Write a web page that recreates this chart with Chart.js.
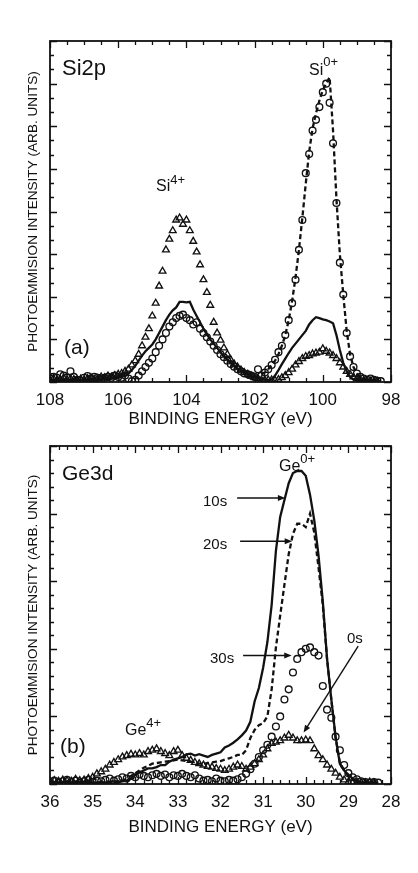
<!DOCTYPE html>
<html><head><meta charset="utf-8">
<script src="https://cdn.jsdelivr.net/npm/chart.js@4.4.0/dist/chart.umd.min.js"></script>
<style>
html,body{margin:0;padding:0;background:#fff;}
#wrap{position:relative;width:418px;height:873px;overflow:hidden;font-family:"Liberation Sans",Arial,Helvetica,sans-serif;color:#111;}
canvas{position:absolute;left:0;}
.lbl{position:absolute;line-height:1;white-space:nowrap;}
.sp{position:relative;font-size:13px;}
</style></head>
<body><div id="wrap">
<canvas id="cA" width="418" height="436" style="top:0px"></canvas>
<canvas id="cB" width="418" height="437" style="top:436px"></canvas>
<div class="lbl" style="left:62px;top:57px;font-size:22px">Si2p</div>
<div class="lbl" style="left:309px;top:62px;font-size:16px">Si<span class="sp" style="top:-9px">0+</span></div>
<div class="lbl" style="left:156px;top:178px;font-size:16px">Si<span class="sp" style="top:-7px">4+</span></div>
<div class="lbl" style="left:64px;top:336px;font-size:21px">(a)</div>
<div class="lbl" style="left:62px;top:462px;font-size:21px">Ge3d</div>
<div class="lbl" style="left:279px;top:458px;font-size:16px">Ge<span class="sp" style="top:-8px">0+</span></div>
<div class="lbl" style="left:203px;top:493px;font-size:15px">10s</div>
<div class="lbl" style="left:203px;top:536px;font-size:15px">20s</div>
<div class="lbl" style="left:210px;top:650px;font-size:15px">30s</div>
<div class="lbl" style="left:347px;top:630px;font-size:15px">0s</div>
<div class="lbl" style="left:125px;top:722px;font-size:16px">Ge<span class="sp" style="top:-8px">4+</span></div>
<div class="lbl" style="left:60px;top:735px;font-size:21px">(b)</div>
</div>
<script>
// ---------- Panel (a): Si2p, binding energy grid 108.0 -> 98.2 eV (0.1 eV step)
const energyA = Array.from({length: 99}, (_, i) => +(108 - 0.1 * i).toFixed(1));
const circA = [
  0.08,0.12,0.10,0.18,0.15,0.10,0.25,0.12,0.05,0.03,
  0.10,0.14,0.08,0.12,0.10,0.05,0.10,0.12,0.10,0.15,
  0.12,0.10,0.15,0.08,0.02,0.05,0.15,0.25,0.35,0.45,
  0.55,0.70,0.85,1.00,1.15,1.30,1.40,1.50,1.55,1.58,
  1.50,1.45,1.35,1.40,1.25,1.15,1.05,0.95,0.85,0.75,
  0.65,0.58,0.50,0.42,0.36,0.30,0.25,0.20,0.18,0.15,
  0.12,0.30,0.15,0.22,0.30,0.40,0.52,0.70,0.85,1.10,
  1.45,1.85,2.40,3.10,3.80,4.90,5.35,5.90,6.15,6.45,
  6.80,7.00,6.55,5.60,4.20,2.80,2.05,1.15,0.60,0.35,
  0.20,0.12,0.08,0.05,0.08,0.05,0.03,0.02,null
];
const triA = [
  0.05,0.08,0.04,0.06,0.10,0.05,0.08,0.06,0.04,0.07,
  0.05,0.08,0.10,0.06,0.08,0.12,0.10,0.14,0.12,0.15,
  0.18,0.20,0.25,0.30,0.40,0.50,0.65,0.85,1.05,1.25,
  1.55,1.85,2.25,2.60,3.10,3.35,3.55,3.80,3.85,3.70,
  3.80,3.55,3.30,3.05,2.75,2.40,2.10,1.80,1.40,1.15,
  0.98,0.80,0.65,0.52,0.42,0.35,0.28,0.22,0.18,0.14,
  0.10,0.08,0.05,0.04,0.05,0.05,0.04,0.06,0.10,0.15,
  0.22,0.30,0.40,0.48,0.55,0.60,0.62,0.66,0.68,0.70,
  0.78,0.72,0.68,0.62,0.55,0.45,0.35,0.25,0.18,0.12,
  0.08,0.05,0.04,0.03,0.02,0.02,0.02,null,null
];
const solidA = [
  0.06,0.05,0.07,0.05,0.04,0.06,0.05,0.07,0.05,0.04,
  0.06,0.05,0.07,0.06,0.05,0.06,0.08,0.07,0.08,0.10,
  0.10,0.12,0.15,0.20,0.28,0.38,0.50,0.62,0.72,0.80,
  0.88,1.00,1.15,1.30,1.45,1.58,1.68,1.75,1.88,1.88,
  1.87,1.88,1.70,1.55,1.40,1.25,1.12,1.00,0.90,0.80,
  0.70,0.60,0.52,0.45,0.38,0.32,0.27,0.22,0.18,0.14,
  0.12,0.10,0.08,0.06,0.05,0.06,0.15,0.28,0.42,0.55,
  0.68,0.80,0.90,1.00,1.10,1.20,1.35,1.45,1.52,1.50,
  1.47,1.45,1.42,1.38,1.10,0.75,0.45,0.25,0.12,0.06,
  0.04,0.03,0.03,0.02,0.02,0.02,0.02,0.02,null
];
// dashed curve: 102.0 -> 98.3 eV
const energyDashA = Array.from({length: 38}, (_, i) => +(102 - 0.1 * i).toFixed(1));
const dashA = [
  0.10,0.15,0.18,0.22,0.30,0.40,0.50,0.65,0.85,1.10,
  1.45,1.90,2.45,3.10,3.85,4.65,5.40,5.95,6.30,6.60,
  6.85,7.00,7.15,5.90,4.30,3.00,2.05,1.20,0.65,0.35,
  0.20,0.12,0.08,0.05,0.04,0.03,0.02,0.02
];

// ---------- Panel (b): Ge3d, binding energy grid 36.0 -> 28.2 eV (0.1 eV step)
const energyB = Array.from({length: 79}, (_, i) => +(36 - 0.1 * i).toFixed(1));
const circB30s = [
  .03,.05,.02,.04,.06,.03,.05,.02,.04,.06,
  .03,.05,.04,.06,.08,.05,.07,.10,.08,.12,
  .10,.14,.12,.10,.13,.15,.12,.14,.10,.13,
  .12,.15,.12,.10,.13,.08,.05,.06,.04,.08,
  .05,.04,.06,.05,.07,.10,.15,.22,.30,.40,
  .50,.58,.70,.85,1.00,1.25,1.40,1.65,1.85,1.95,
  2.00,2.02,1.95,1.90,1.45,1.10,.98,.70,.50,.28,
  .16,.10,.07,.04,.03,.02,.03,.02,null
];
const triB0s = [
  .03,.05,.04,.06,.05,.04,.07,.05,.06,.08,
  .10,.15,.18,.22,.28,.32,.36,.40,.42,.44,
  .43,.45,.43,.48,.50,.52,.48,.45,.42,.48,
  .50,.42,.38,.35,.32,.30,.28,.26,.25,.23,
  .22,.20,.22,.25,.28,.26,.22,.25,.30,.36,
  .43,.52,.60,.62,.64,.68,.72,.68,.64,.64,
  .65,.64,.52,.42,.36,.28,.22,.16,.10,.06,
  .03,.02,.03,.02,.02,.03,.02,null,null
];
const solidB10s = [
  .02,.02,.02,.03,.02,.02,.03,.02,.02,.03,
  .02,.02,.03,.02,.03,.04,.03,.04,.05,.08,
  .13,.17,.20,.23,.23,.25,.28,.28,.33,.36,
  .38,.40,.44,.45,.42,.44,.42,.40,.43,.45,
  .47,.54,.57,.61,.66,.72,.79,.92,1.22,1.42,
  1.72,2.10,2.65,3.45,3.95,4.20,4.45,4.60,4.63,4.63,
  4.56,4.28,3.90,3.38,2.70,1.85,1.25,.70,.30,.20,
  .14,.08,.04,.02,.02,.02,.02,.02,null
];
const dashB20s = [
  .02,.03,.02,.02,.03,.02,.02,.03,.02,.02,
  .02,.02,.02,.03,.02,.03,.04,.05,.08,.12,
  .16,.20,.24,.27,.30,.31,.32,.33,.34,.35,
  .36,.35,.34,.33,.32,.30,.30,.31,.32,.33,
  .34,.36,.38,.40,.43,.43,.50,.68,.80,.87,
  .90,1.00,1.40,2.02,2.49,2.95,3.40,3.70,3.85,3.85,
  3.80,4.00,3.72,3.20,2.65,1.85,1.25,.68,.32,.20,
  .12,.07,.04,.02,.02,.02,.02,.02,null
];

const INK = '#111111';
const FONT = "'Liberation Sans', Arial, Helvetica, sans-serif";
const yTitle = 'PHOTOEMMISION INTENSITY (ARB. UNITS)';
const xTitle = 'BINDING ENERGY (eV)';

function pts(E, V) {
  const out = [];
  V.forEach((v, i) => { if (v !== null) out.push({x: E[i], y: v}); });
  return out;
}
const isMaj = (v, s) => Math.abs(v / s - Math.round(v / s)) < 1e-6;

function drawArrow(ctx, x1, y1, x2, y2, head) {
  const ang = Math.atan2(y2 - y1, x2 - x1);
  ctx.beginPath();
  ctx.moveTo(x1, y1);
  ctx.lineTo(x2 - Math.cos(ang) * head * 0.8, y2 - Math.sin(ang) * head * 0.8);
  ctx.stroke();
  ctx.beginPath();
  ctx.moveTo(x2, y2);
  ctx.lineTo(x2 - head * Math.cos(ang - 0.38), y2 - head * Math.sin(ang - 0.38));
  ctx.lineTo(x2 - head * Math.cos(ang + 0.38), y2 - head * Math.sin(ang + 0.38));
  ctx.closePath();
  ctx.fill();
}

const framePlugin = {
  id: 'frame',
  afterDatasetsDraw(chart, args, o) {
    const {ctx, chartArea: a, scales: {x, y}} = chart;
    ctx.save();
    ctx.strokeStyle = INK;
    ctx.fillStyle = INK;
    ctx.lineWidth = 1.3;
    ctx.beginPath();
    x.ticks.forEach(t => {
      const p = Math.round(x.getPixelForValue(t.value)) + 0.5;
      const L = isMaj(t.value, o.xMajor) ? 7 : 4;
      ctx.moveTo(p, a.bottom); ctx.lineTo(p, a.bottom - L);
      ctx.moveTo(p, a.top); ctx.lineTo(p, a.top + L);
    });
    y.ticks.forEach(t => {
      const p = Math.round(y.getPixelForValue(t.value)) + 0.5;
      const L = isMaj(t.value, o.yMajor) ? 7 : 4;
      ctx.moveTo(a.left, p); ctx.lineTo(a.left + L, p);
      ctx.moveTo(a.right, p); ctx.lineTo(a.right - L, p);
    });
    ctx.stroke();
    ctx.lineWidth = 1.8;
    ctx.strokeRect(a.left, a.top, a.right - a.left, a.bottom - a.top);
    ctx.lineWidth = 1.4;
    (o.arrows || []).forEach(ar => {
      drawArrow(ctx, x.getPixelForValue(ar[0]), y.getPixelForValue(ar[1]),
                x.getPixelForValue(ar[2]), y.getPixelForValue(ar[3]), 8);
    });
    ctx.restore();
  }
};

function markerSet(data, style, r) {
  return {data, showLine: false, pointStyle: style, pointRadius: r, pointHoverRadius: r,
    pointBorderColor: INK, pointBackgroundColor: 'rgba(0,0,0,0)', pointBorderWidth: 1.35,
    borderColor: INK, backgroundColor: 'rgba(0,0,0,0)'};
}
function lineSet(data, dash) {
  return {data, showLine: true, pointRadius: 0, borderColor: INK, borderWidth: 2.3,
    borderDash: dash, tension: 0, backgroundColor: 'rgba(0,0,0,0)'};
}

function makeChart(id, cfg) {
  return new Chart(document.getElementById(id), {
    type: 'scatter',
    data: {datasets: cfg.datasets},
    plugins: [framePlugin],
    options: {
      responsive: false, animation: false, events: [],
      layout: {padding: cfg.padding},
      plugins: {legend: {display: false}, tooltip: {enabled: false},
        frame: {xMajor: cfg.xMajor, yMajor: cfg.yMajor, arrows: cfg.arrows}},
      scales: {
        x: {
          type: 'linear', reverse: true, min: cfg.xMin, max: cfg.xMax,
          grid: {display: false, drawTicks: false}, border: {display: false},
          afterBuildTicks: s => { s.ticks = cfg.xTicks.map(v => ({value: v})); },
          afterFit: s => { s.height = cfg.xAxisH; },
          ticks: {autoSkip: false, maxRotation: 0, padding: 8, color: INK,
            font: {family: FONT, size: 17},
            callback: v => isMaj(v, cfg.xMajor) ? String(Math.round(v)) : ''},
          title: {display: true, text: xTitle, color: INK, padding: {top: 0, bottom: 0},
            font: {family: FONT, size: 17}}
        },
        y: {
          type: 'linear', min: cfg.yMin, max: cfg.yMax,
          grid: {display: false, drawTicks: false}, border: {display: false},
          afterBuildTicks: s => { s.ticks = cfg.yTicks.map(v => ({value: v})); },
          afterFit: s => { s.width = 50; },
          ticks: {display: false},
          title: {display: true, text: yTitle, color: INK, padding: {top: 25, bottom: 0},
            font: {family: FONT, size: 13.6}}
        }
      }
    }
  });
}

const xTicksA = Array.from({length: 21}, (_, k) => 98 + 0.5 * k);
const yTicksA = Array.from({length: 25}, (_, k) => k / 3);
const xTicksB = Array.from({length: 41}, (_, k) => 28 + 0.2 * k);
const yTicksB = Array.from({length: 26}, (_, k) => 0.2 * k);

makeChart('cA', {
  datasets: [
    markerSet(pts(energyA, circA), 'circle', 3.4),
    markerSet(pts(energyA, triA), 'triangle', 3.9),
    lineSet(pts(energyA, solidA), []),
    lineSet(pts(energyDashA, dashA), [5, 3])
  ],
  padding: {left: 0, right: 27, top: 41, bottom: 6},
  xMin: 98, xMax: 108, yMin: 0, yMax: 8, xMajor: 2, yMajor: 1,
  xTicks: xTicksA, yTicks: yTicksA, xAxisH: 48, arrows: []
});

makeChart('cB', {
  datasets: [
    markerSet(pts(energyB, circB30s), 'circle', 3.4),
    markerSet(pts(energyB, triB0s), 'triangle', 3.9),
    lineSet(pts(energyB, solidB10s), []),
    lineSet(pts(energyB, dashB20s), [5, 3])
  ],
  padding: {left: 0, right: 27, top: 10, bottom: 35},
  xMin: 28, xMax: 36, yMin: 0, yMax: 5, xMajor: 1, yMajor: 1,
  xTicks: xTicksB, yTicks: yTicksB, xAxisH: 54,
  arrows: [
    [31.61, 4.23, 30.48, 4.23],
    [31.54, 3.59, 30.32, 3.59],
    [31.47, 1.90, 30.33, 1.90],
    [28.77, 2.04, 30.05, 0.76]
  ]
});
</script>
</body></html>
